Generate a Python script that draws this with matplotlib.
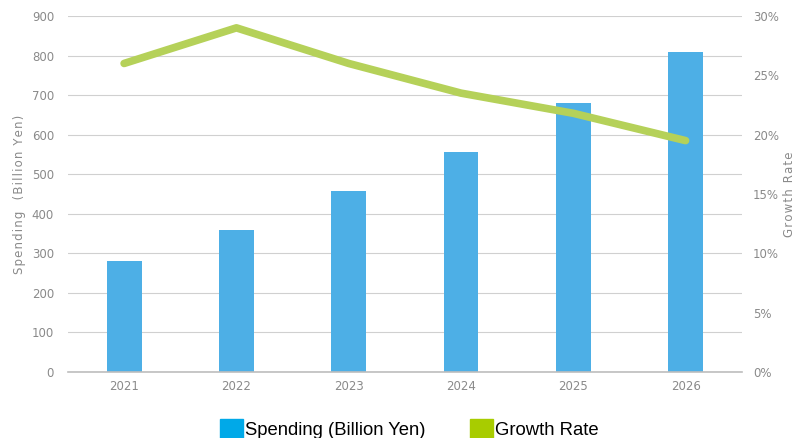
import numpy as np
import matplotlib.pyplot as plt
from matplotlib.patches import Patch

years = ['2021', '2022', '2023', '2024', '2025', '2026']
spending = [280, 360, 457, 555, 680, 810]
growth = [26.0, 29.0, 26.0, 23.5, 21.8, 19.5]

bar_color = '#4DAFE6'
line_color = '#B5D159'
text_gray = '#8A8A8A'


def spaced(s):
    # loose letter spacing like the original axis titles
    return '\u200a'.join(s)


fig = plt.figure(figsize=(7.95, 4.38), dpi=100)
ax = fig.add_axes([0.0855, 0.1507, 0.8475, 0.8128])
x = np.arange(len(years))

ax.bar(x, spending, width=0.31, color=bar_color, zorder=2)
ax.set_ylim(0, 900)
ax.set_yticks(np.arange(0, 901, 100))
ax.set_xlim(-0.5, len(years) - 0.5)
ax.set_xticks(x)
ax.set_xticklabels(years)
ax.grid(axis='y', color='#D0D0D0', lw=0.8, zorder=0)
ax.set_axisbelow(True)
for s in ['top', 'right', 'left']:
    ax.spines[s].set_visible(False)
ax.spines['bottom'].set_color('#BDBDBD')
ax.spines['bottom'].set_linewidth(1.2)
ax.tick_params(length=0, colors=text_gray, labelsize=8.5)
ax.tick_params(axis='y', pad=10)
ax.tick_params(axis='x', pad=6)
ax.set_ylabel(spaced('Spending') + '   ' + spaced('(Billion Yen)'), color=text_gray,
              fontsize=8.5, labelpad=4)

ax2 = ax.twinx()
ax2.plot(x, growth, color=line_color, lw=5.5, solid_capstyle='round', zorder=3)
ax2.set_ylim(0, 30)
ax2.set_yticks(np.arange(0, 31, 5))
ax2.set_yticklabels([f'{v}%' for v in range(0, 31, 5)])
for s in ['top', 'right', 'left', 'bottom']:
    ax2.spines[s].set_visible(False)
ax2.tick_params(length=0, colors=text_gray, labelsize=8.5, pad=8)
ax2.set_ylabel(spaced('Growth Rate'), color=text_gray, fontsize=8.5, labelpad=3)

handles = [Patch(color='#00A9E8'), Patch(color='#A8CC00')]
fig.legend(handles, ['Spending (Billion Yen)', 'Growth Rate'],
           loc='lower center', bbox_to_anchor=(0.515, -0.04), ncol=2, frameon=False,
           handlelength=1.25, handleheight=1.25, handletextpad=0.1, columnspacing=2.4,
           prop={'family': 'Liberation Sans', 'size': 13.3})

fig.savefig('out.png', dpi=100)
